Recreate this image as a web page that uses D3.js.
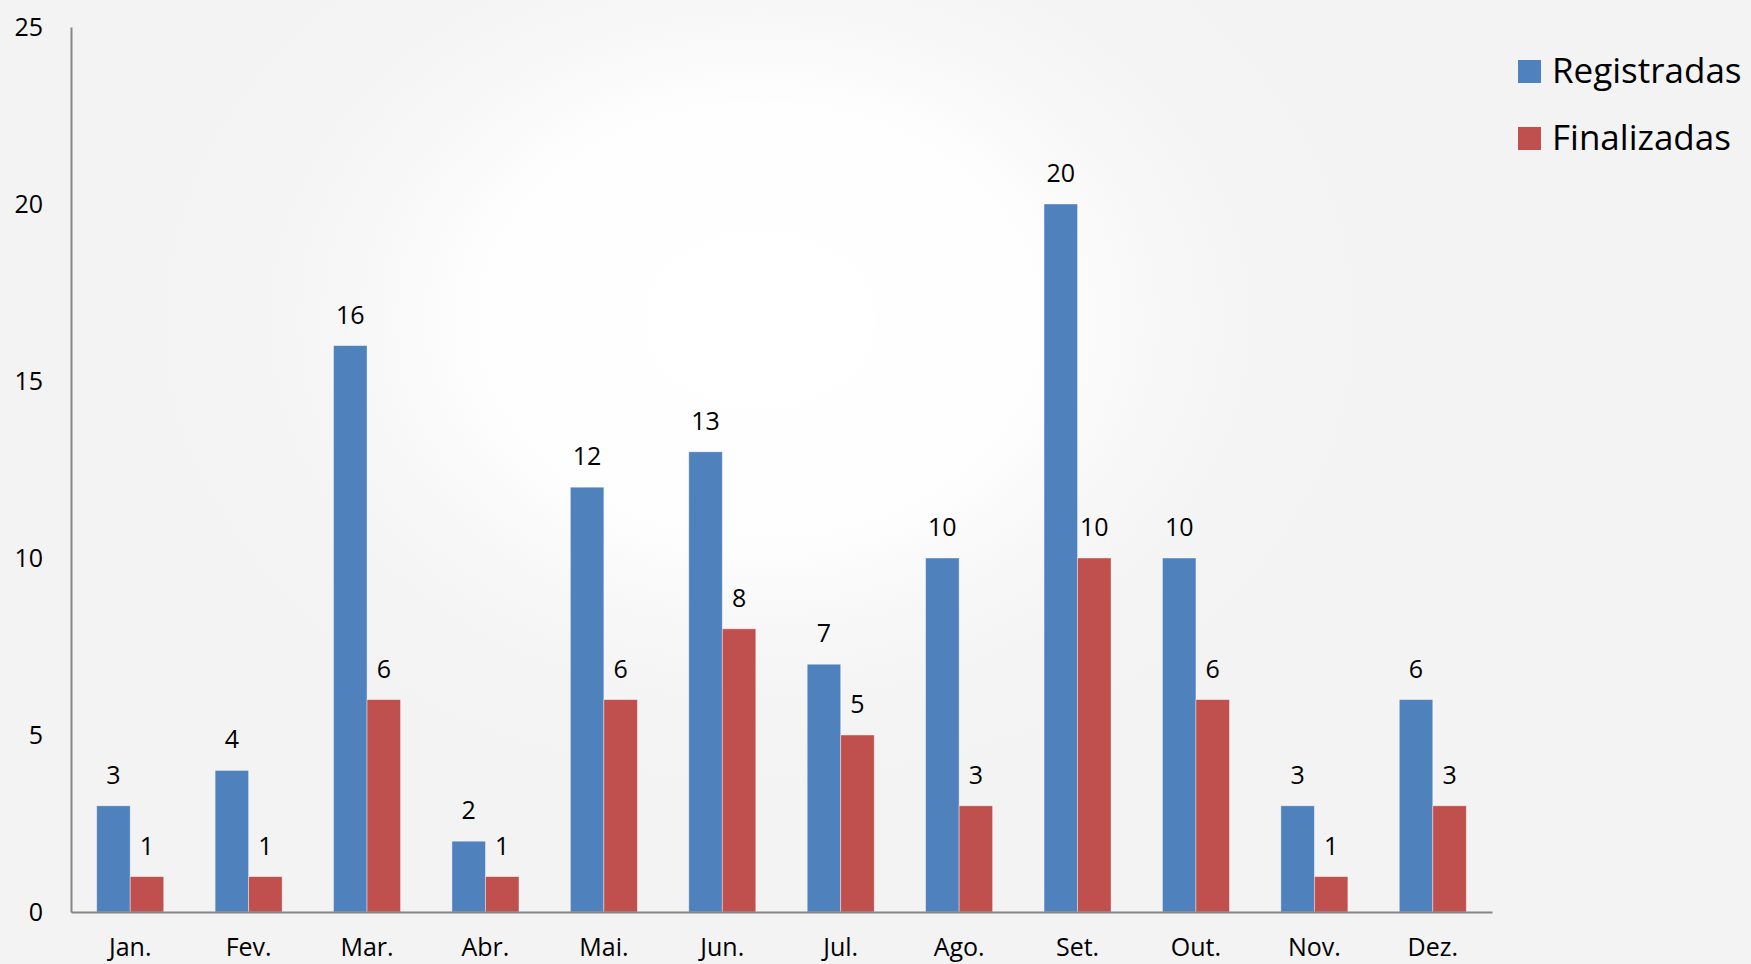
<!DOCTYPE html>
<html><head><meta charset="utf-8">
<script src="https://cdn.jsdelivr.net/npm/d3@7"></script>
<style>
html,body{margin:0;padding:0;background:#f3f3f3;}
svg{display:block;}
text{font-family:"Open Sans",Lato,sans-serif;fill:#000;}
</style></head>
<body>
<svg id="chart" width="1751" height="964"></svg>
<script>
const categories = ["Jan.","Fev.","Mar.","Abr.","Mai.","Jun.","Jul.","Ago.","Set.","Out.","Nov.","Dez."];
const registradas = [3,4,16,2,12,13,7,10,20,10,3,6];
const finalizadas = [1,1,6,1,6,8,5,3,10,6,1,3];
const seriesNames = ["Registradas","Finalizadas"];
const yTicks = [0,5,10,15,20,25];

const colors = ["#4F81BD","#C0504D"];
const svg = d3.select("#chart");
const W = 1751, H = 964;
const FONT = "'Open Sans',Lato,sans-serif";

// background
const defs = svg.append("defs");
const rg = defs.append("radialGradient").attr("id","glow").attr("cx","0.5").attr("cy","0.5").attr("r","0.5");
rg.append("stop").attr("offset","0").attr("stop-color","#ffffff").attr("stop-opacity",1);
rg.append("stop").attr("offset","0.45").attr("stop-color","#ffffff").attr("stop-opacity",0.9);
rg.append("stop").attr("offset","1").attr("stop-color","#f3f3f3").attr("stop-opacity",0);
svg.append("rect").attr("width",W).attr("height",H).attr("fill","#f3f3f3");
svg.append("ellipse").attr("cx",760).attr("cy",320).attr("rx",620).attr("ry",480).attr("fill","url(#glow)");

const x0 = d3.scaleBand().domain(categories).range([71,1492]).paddingInner(0.434).paddingOuter(0.217);
const x1 = d3.scaleBand().domain(seriesNames).range([0,x0.bandwidth()]).padding(0);
const y = d3.scaleLinear().domain([0,25]).range([912,27]);

const data = categories.map((c,i)=>({cat:c, vals:[registradas[i],finalizadas[i]]}));

const g = svg.append("g");
const groups = g.selectAll("g.grp").data(data).join("g").attr("class","grp")
  .attr("transform",d=>`translate(${x0(d.cat)},0)`);
groups.selectAll("rect").data(d=>d.vals.map((v,k)=>({v,k}))).join("rect")
  .attr("x",d=>x1(seriesNames[d.k]))
  .attr("y",d=>y(d.v))
  .attr("width",x1.bandwidth())
  .attr("height",d=>y(0)-y(d.v))
  .attr("fill",d=>colors[d.k])
  .attr("stroke","#ffffff").attr("stroke-opacity",0.5).attr("stroke-width",0.8);
groups.selectAll("text.val").data(d=>d.vals.map((v,k)=>({v,k}))).join("text")
  .attr("class","val")
  .attr("x",d=>x1(seriesNames[d.k])+x1.bandwidth()/2)
  .attr("y",d=>y(d.v)-22)
  .attr("text-anchor","middle")
  .attr("font-size",25)
  .text(d=>d.v);

// axes
const yAxis = d3.axisLeft(y).tickValues(yTicks).tickSize(0).tickPadding(28);
const ya = svg.append("g").attr("transform","translate(71,0)").call(yAxis);
ya.select(".domain").attr("stroke","#868686").attr("stroke-width",2);
ya.selectAll("text").attr("font-size",25).attr("font-family",FONT).attr("fill","#000").attr("dy","0.35em");

const xAxis = d3.axisBottom(x0).tickSize(0).tickPadding(26);
const xa = svg.append("g").attr("transform","translate(0,912)").call(xAxis);
xa.select(".domain").attr("stroke","#868686").attr("stroke-width",2);
xa.selectAll("text").attr("font-size",25).attr("font-family",FONT).attr("fill","#000");

// legend
const leg = svg.append("g");
seriesNames.forEach((n,i)=>{
  const yy = 60 + i*67;
  leg.append("rect").attr("x",1518).attr("y",yy).attr("width",23).attr("height",23).attr("fill",colors[i]);
  leg.append("text").attr("x",1552).attr("y",yy+23).attr("font-size",35).text(n);
});
</script>
</body></html>
